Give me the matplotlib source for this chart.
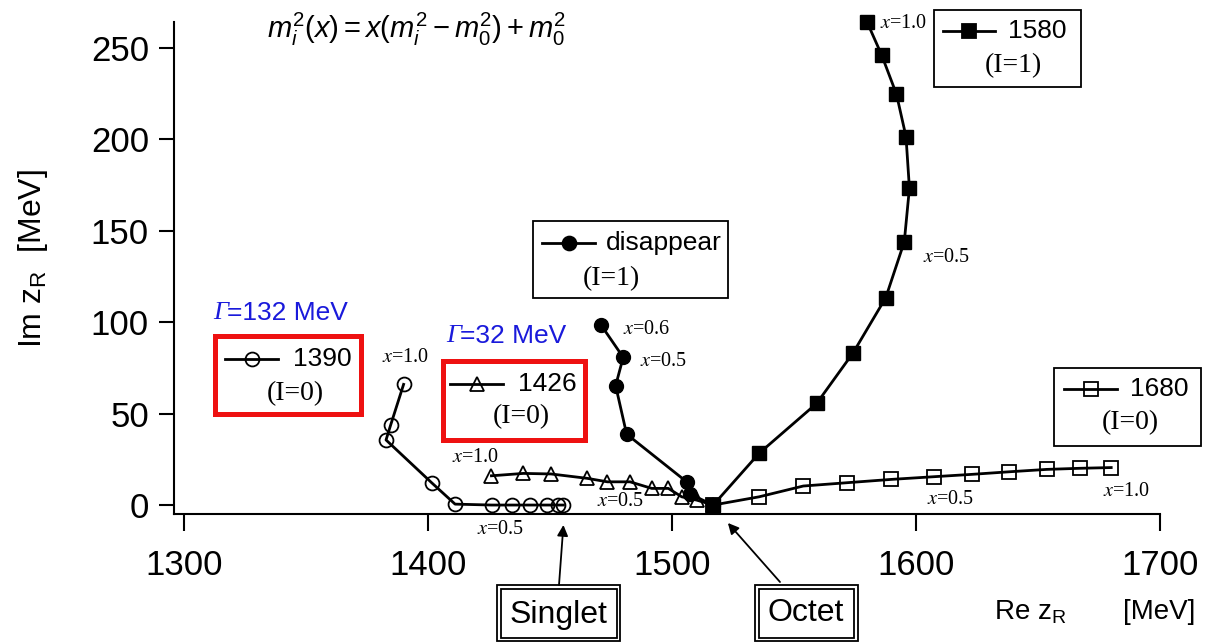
import matplotlib
matplotlib.use("Agg")
import matplotlib.pyplot as plt
from matplotlib.patches import Rectangle
from matplotlib.lines import Line2D

W, H = 1205, 642

plt.rcParams['font.family'] = ['Liberation Sans', 'DejaVu Sans']
plt.rcParams['mathtext.fontset'] = 'custom'
plt.rcParams['mathtext.rm'] = 'Liberation Sans'
plt.rcParams['mathtext.it'] = 'Liberation Sans:italic'
plt.rcParams['mathtext.bf'] = 'Liberation Sans:bold'

# Pole trajectories in the complex plane, mixing parameter x = 1.0 -> 0.0
re_1390 = [1390.0, 1384.7, 1382.8, 1401.5, 1411.1, 1426.1, 1434.3, 1441.8, 1448.6, 1453.4, 1455.5]
im_1390 = [66.0, 43.8, 35.6, 12.2, 0.5, 0.0, 0.0, 0.0, 0.0, 0.0, 0.0]

re_1426 = [1426.0, 1439.1, 1450.4, 1465.3, 1473.5, 1482.8, 1491.7, 1498.5, 1504.0, 1510.1, 1516.9]
im_1426 = [16.0, 17.3, 17.0, 14.6, 12.7, 12.7, 9.1, 9.1, 4.5, 2.7, 0.0]

# x = 0.6 -> 0.0 (pole disappears above x = 0.6)
re_dis = [1470.9, 1480.0, 1476.9, 1481.4, 1506.0, 1507.4, 1516.9]
im_dis = [98.5, 80.8, 65.3, 38.8, 12.7, 6.0, 0.0]

re_1580 = [1580.0, 1585.9, 1592.0, 1595.9, 1597.3, 1595.2, 1587.6, 1574.2, 1559.3, 1535.7, 1516.9]
im_1580 = [264.0, 246.2, 224.7, 201.5, 173.3, 144.0, 113.4, 83.2, 55.6, 28.3, 0.0]

re_1680 = [1680.0, 1667.2, 1653.6, 1638.3, 1623.1, 1607.4, 1589.6, 1571.6, 1553.8, 1535.7, 1516.9]
im_1680 = [20.5, 20.1, 19.5, 18.2, 16.8, 15.5, 14.0, 12.2, 10.4, 4.5, 0.0]

x_ticks = [1300, 1400, 1500, 1600, 1700]
y_ticks = [0, 50, 100, 150, 200, 250]

# limit points
singlet = (1455.5, 0.0)
octet = (1516.9, 0.0)


def fx(px):
    return px / W


def fy(py):
    return 1 - py / H


fig = plt.figure(figsize=(W / 100, H / 100), dpi=100)
fig.patch.set_facecolor('white')
ax = fig.add_axes([fx(174), fy(514), (1160 - 174) / W, (514 - 22) / H])
ax.set_xlim(1295.9, 1700)
ax.set_ylim(-4.9, 264.2)
for s in ('top', 'right'):
    ax.spines[s].set_visible(False)
for s in ('left', 'bottom'):
    ax.spines[s].set_linewidth(1.5)
ax.set_xticks(x_ticks)
ax.set_yticks(y_ticks)
ax.tick_params(axis='x', direction='out', length=12, width=1.5, pad=13, labelsize=25)
ax.tick_params(axis='y', direction='out', length=11, width=1.5, pad=7, labelsize=25)

lw = 2.0
ax.plot(re_1390, im_1390, '-', color='black', lw=lw, marker='o', ms=10,
        mfc='none', mec='black', mew=1.3, clip_on=False)
ax.plot(re_1426, im_1426, '-', color='black', lw=lw, marker='^', ms=10,
        mfc='none', mec='black', mew=1.3, clip_on=False)
ax.plot(re_1680, im_1680, '-', color='black', lw=lw, marker='s', ms=10.5,
        mfc='none', mec='black', mew=1.3, clip_on=False)
ax.plot(re_dis, im_dis, '-', color='black', lw=lw, marker='o', ms=10,
        mfc='black', mec='black', clip_on=False)
ax.plot(re_1580, im_1580, '-', color='black', lw=lw, marker='s', ms=10,
        mfc='black', mec='black', clip_on=False)

# x-value annotations along the trajectories
xlab = dict(fontsize=14.5, family='Liberation Serif', math_fontfamily='stix',
            ha='center', va='center')
for px, py, s in [(406, 358, '1.0'), (501, 530, '0.5'),
                  (476, 457, '1.0'), (621, 502, '0.5'),
                  (647, 330, '0.6'), (664, 362, '0.5'),
                  (904, 23, '1.0'), (947, 257, '0.5'),
                  (951, 500, '0.5'), (1127, 491, '1.0')]:
    fig.text(fx(px), fy(py), r'$x$=' + s, **xlab)


def key_box(box, ec, elw, y_line, line_x, label, label_x, iso, iso_xy,
            marker, mfc, ms):
    x0, y0, x1, y1 = box
    fig.add_artist(Rectangle((fx(x0), fy(y1)), (x1 - x0) / W, (y1 - y0) / H,
                             transform=fig.transFigure, fill=False,
                             ec=ec, lw=elw))
    a, b = line_x
    fig.add_artist(Line2D([fx(a), fx(b)], [fy(y_line)] * 2,
                          transform=fig.transFigure, color='black', lw=lw))
    fig.add_artist(Line2D([fx((a + b) / 2)], [fy(y_line)],
                          transform=fig.transFigure, marker=marker, ms=ms,
                          mfc=mfc, mec='black', mew=1.3, ls='none'))
    fig.text(fx(label_x), fy(y_line), label, fontsize=19, ha='left',
             va='center')
    fig.text(fx(iso_xy[0]), fy(iso_xy[1]), iso, fontsize=20,
             family='Liberation Serif', ha='center', va='center')


red = '#ee1111'
key_box((215, 336, 361, 414), red, 3.6, 359, (225, 278), '1390', 293,
        '(I=0)', (295, 394), 'o', 'none', 10)
key_box((442.5, 361, 585, 439.5), red, 3.6, 384, (450, 503), '1426', 518,
        '(I=0)', (521, 417), '^', 'none', 10)
key_box((533, 221, 728, 298), 'black', 1.3, 243, (542, 595), 'disappear',
        606, '(I=1)', (611, 279), 'o', 'black', 10)
key_box((934, 10, 1081, 87), 'black', 1.3, 31, (943, 995), '1580', 1008,
        '(I=1)', (1013, 66), 's', 'black', 10)
key_box((1054, 368, 1201, 446), 'black', 1.3, 389, (1064, 1117), '1680',
        1130, '(I=0)', (1130, 423), 's', 'none', 10.5)

# widths of the two I=0 resonances
blue = '#1a1adb'
for px, py, s in [(213, 313, '=132 MeV'), (446, 336, '=32 MeV')]:
    fig.text(fx(px), fy(py), '\u0393', fontsize=19, fontstyle='italic',
             family='Liberation Serif', color=blue, ha='left', va='center')
    fig.text(fx(px + 14), fy(py), s, fontsize=19, color=blue,
             ha='left', va='center')

# formula for the mixing of the meson masses
fig.text(fx(416), fy(29), r'$m_i^2(x) = x(m_i^2 - m_0^2) + m_0^2$',
         fontsize=21, ha='center', va='center')


def double_box(box, label, cx, cy):
    x0, y0, x1, y1 = box
    for d in (0, 3.5):
        fig.add_artist(Rectangle((fx(x0 + d), fy(y1 - d)),
                                 (x1 - x0 - 2 * d) / W, (y1 - y0 - 2 * d) / H,
                                 transform=fig.transFigure, fill=False,
                                 ec='black', lw=1.3))
    fig.text(fx(cx), fy(cy), label, fontsize=23, ha='center', va='center')


double_box((497, 585, 620, 641), 'Singlet', 558, 615)
double_box((755, 585, 858, 641), 'Octet', 806, 613)

arrow = dict(arrowstyle='-|>', color='black', lw=1.3, mutation_scale=16,
             shrinkA=0, shrinkB=0)
ax.annotate('', xy=(singlet[0], -10.9), xycoords='data',
            xytext=(fx(559), fy(585)), textcoords='figure fraction',
            arrowprops=arrow, annotation_clip=False)
ax.annotate('', xy=(octet[0] + 6, -9.8), xycoords='data',
            xytext=(fx(780), fy(582)), textcoords='figure fraction',
            arrowprops=arrow, annotation_clip=False)

# axis titles
fig.text(fx(1067), fy(612), r'Re z$_\mathregular{R}$', fontsize=20,
         ha='right', va='center')
fig.text(fx(1159), fy(612), '[MeV]', fontsize=20, ha='center', va='center')
fig.text(fx(33), fy(259), r'Im z$_\mathregular{R}$  [MeV]', fontsize=23,
         rotation=90, ha='center', va='center')

fig.savefig('out.png', dpi=100)
